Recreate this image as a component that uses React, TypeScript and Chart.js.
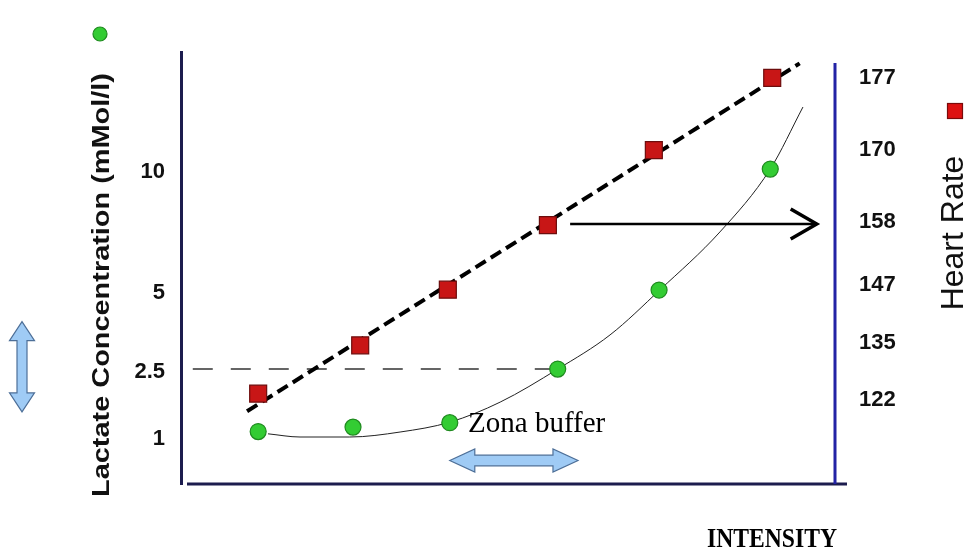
import React, { useEffect, useRef } from 'react';
import { Chart, LinearScale, registerables } from 'chart.js';

Chart.register(...registerables);

// ---------- data ----------
const lactateIntensity = [11.8, 26.3, 41.1, 57.6, 73.1, 90.1];
const lactateValues = [1.1, 1.2, 1.3, 2.5, 5, 10];
const hrIntensity = [11.8, 27.4, 40.8, 56.1, 72.3, 90.4];
const hrValues = [123.5, 134.5, 146, 157.5, 170, 177];
const lactateTicks = [1, 2.5, 5, 10];
const hrTicks = [122, 135, 147, 158, 170, 177];
// fitted lactate curve
const lactateCurveX = [13.3, 18.2, 25.8, 33.5, 41.1, 48.8, 57.6, 65.6, 73.2, 82.4, 90.1, 95.1];
const lactateCurveY = [1.05, 0.98, 0.98, 1.09, 1.31, 1.76, 2.5, 3.58, 5, 7.4, 10, 12.65];
// heart-rate regression line
const hrTrendX = [10.1, 94.6];
const hrTrendY = [119.5, 178.4];
// threshold line at 2.5 mMol/l
const thresholdX = [1.8, 57.6];
const thresholdY = [2.5, 2.5];
// annotation arrow (heart rate at threshold)
const arrowX = [59.5, 97.2];
const arrowHR = 157.7;
// buffer zone arrow
const bufferX = [41.1, 60.7];
const bufferLactate = 0.49;
const sideArrowLactate = [4.0, 1.54];

// ---------- axis break layout (non-linear axes of the original) ----------
const AXIS_BREAKS: Record<string, { values: number[]; fractions: number[] }> = {
  yL: { values: [0, 1, 2.5, 5, 10, 15], fractions: [0, 0.111, 0.266, 0.449, 0.729, 1] },
  yR: {
    values: [103, 122, 135, 147, 158, 170, 177, 179.5],
    fractions: [0, 0.194, 0.326, 0.461, 0.606, 0.773, 0.94, 1],
  },
};

function interp(xs: number[], ys: number[], v: number) {
  const n = xs.length;
  if (v <= xs[0]) {
    return ys[0] + ((v - xs[0]) * (ys[1] - ys[0])) / (xs[1] - xs[0]);
  }
  for (let i = 1; i < n; i++) {
    if (v <= xs[i]) {
      return ys[i - 1] + ((v - xs[i - 1]) * (ys[i] - ys[i - 1])) / (xs[i] - xs[i - 1]);
    }
  }
  return ys[n - 2] + ((v - xs[n - 2]) * (ys[n - 1] - ys[n - 2])) / (xs[n - 1] - xs[n - 2]);
}

class PiecewiseScale extends LinearScale {
  static id = 'piecewise';
  static defaults = {};
  getPixelForValue(value: any) {
    if (value === null || value === undefined || isNaN(value)) return NaN;
    const b = AXIS_BREAKS[(this as any).id];
    return this.getPixelForDecimal(interp(b.values, b.fractions, value));
  }
  getValueForPixel(pixel: number) {
    const b = AXIS_BREAKS[(this as any).id];
    return interp(b.fractions, b.values, this.getDecimalForPixel(pixel));
  }
}
Chart.register(PiecewiseScale as any);

function doubleArrow(
  ctx: CanvasRenderingContext2D,
  x1: number, y1: number, x2: number, y2: number,
  shaftHalf: number, headHalf: number, headLen: number
) {
  const L = Math.hypot(x2 - x1, y2 - y1);
  const ang = Math.atan2(y2 - y1, x2 - x1);
  ctx.save();
  ctx.translate(x1, y1);
  ctx.rotate(ang);
  ctx.beginPath();
  ctx.moveTo(0, 0);
  ctx.lineTo(headLen, -headHalf);
  ctx.lineTo(headLen, -shaftHalf);
  ctx.lineTo(L - headLen, -shaftHalf);
  ctx.lineTo(L - headLen, -headHalf);
  ctx.lineTo(L, 0);
  ctx.lineTo(L - headLen, headHalf);
  ctx.lineTo(L - headLen, shaftHalf);
  ctx.lineTo(headLen, shaftHalf);
  ctx.lineTo(headLen, headHalf);
  ctx.closePath();
  ctx.fillStyle = '#9fcbf5';
  ctx.fill();
  ctx.lineWidth = 1.2;
  ctx.strokeStyle = '#4d6f98';
  ctx.stroke();
  ctx.restore();
}

function stretchedText(
  ctx: CanvasRenderingContext2D, text: string, font: string,
  x: number, y: number, rot: number, width: number, align: CanvasTextAlign
) {
  ctx.save();
  ctx.font = font;
  ctx.textAlign = align;
  ctx.textBaseline = 'alphabetic';
  ctx.translate(x, y);
  ctx.rotate(rot);
  const w = ctx.measureText(text).width;
  ctx.scale(width / w, 1);
  ctx.fillText(text, 0, 0);
  ctx.restore();
}

const decorations = {
  id: 'decorations',
  beforeDraw(chart: any) {
    const { ctx, width, height } = chart;
    ctx.save();
    ctx.fillStyle = '#ffffff';
    ctx.fillRect(0, 0, width, height);
    ctx.restore();
  },
  afterDraw(chart: any) {
    const { ctx, chartArea: a, scales } = chart;
    const xs = scales.x, yL = scales.yL, yR = scales.yR;
    ctx.save();
    ctx.lineCap = 'butt';
    // x axis line
    ctx.strokeStyle = '#1c1c4e';
    ctx.lineWidth = 3;
    ctx.beginPath();
    ctx.moveTo(a.left + 6, a.bottom);
    ctx.lineTo(a.right + 12, a.bottom);
    ctx.stroke();
    // right axis line
    ctx.strokeStyle = '#2323a5';
    ctx.beginPath();
    ctx.moveTo(a.right, a.top + 11);
    ctx.lineTo(a.right, a.bottom);
    ctx.stroke();

    // black arrow to heart rate axis
    const ay = yR.getPixelForValue(arrowHR);
    const ax1 = xs.getPixelForValue(arrowX[0]);
    const ax2 = xs.getPixelForValue(arrowX[1]);
    ctx.strokeStyle = '#000';
    ctx.lineWidth = 2.5;
    ctx.beginPath();
    ctx.moveTo(ax1, ay);
    ctx.lineTo(ax2, ay);
    ctx.stroke();
    ctx.lineWidth = 3.5;
    ctx.lineJoin = 'miter';
    ctx.beginPath();
    ctx.moveTo(ax2 - 26, ay - 15);
    ctx.lineTo(ax2, ay);
    ctx.lineTo(ax2 - 26, ay + 15);
    ctx.stroke();

    // blue double arrows
    const by = yL.getPixelForValue(bufferLactate);
    doubleArrow(ctx, xs.getPixelForValue(bufferX[0]), by, xs.getPixelForValue(bufferX[1]), by, 5.3, 11.5, 25);
    doubleArrow(ctx, 22, yL.getPixelForValue(sideArrowLactate[0]), 22, yL.getPixelForValue(sideArrowLactate[1]), 5, 12.5, 19);

    // Zona buffer label
    ctx.fillStyle = '#000';
    ctx.font = "29px 'Liberation Serif', 'Times New Roman', serif";
    ctx.textAlign = 'left';
    ctx.textBaseline = 'alphabetic';
    ctx.fillText('Zona buffer', xs.getPixelForValue(43.9), yL.getPixelForValue(1.09));

    // axis titles
    ctx.fillStyle = '#111';
    stretchedText(ctx, 'Lactate Concentration (mMol/l)', "bold 24px 'Liberation Sans', Arial, sans-serif", 109, 285, -Math.PI / 2, 424, 'center');
    ctx.fillStyle = '#111';
    ctx.save();
    ctx.font = "32px 'Liberation Sans', Arial, sans-serif";
    ctx.textAlign = 'center';
    ctx.textBaseline = 'alphabetic';
    ctx.translate(963, 233);
    ctx.rotate(-Math.PI / 2);
    ctx.fillText('Heart Rate', 0, 0);
    ctx.restore();
    ctx.fillStyle = '#000';
    stretchedText(ctx, 'INTENSITY', "bold 28px 'Liberation Serif', 'Times New Roman', serif", 707, 547, 0, 130, 'left');

    // legend markers
    ctx.beginPath();
    ctx.arc(100, 34, 7, 0, Math.PI * 2);
    ctx.fillStyle = '#33cc33';
    ctx.fill();
    ctx.lineWidth = 1.2;
    ctx.strokeStyle = '#1f8a1f';
    ctx.stroke();
    ctx.fillStyle = '#dd1111';
    ctx.fillRect(947.5, 103.5, 15, 15);
    ctx.strokeStyle = '#7a0a0a';
    ctx.strokeRect(947.5, 103.5, 15, 15);
    ctx.restore();
  },
};

const tickFont = { family: "'Liberation Sans', Arial, sans-serif", weight: 'bold' as const, size: 22 };

export default function App() {
  const ref = useRef<HTMLCanvasElement>(null);
  useEffect(() => {
    const zip = (xa: number[], ya: number[]) => xa.map((x, i) => ({ x, y: ya[i] }));
    const chart = new Chart(ref.current as HTMLCanvasElement, {
      type: 'scatter',
      data: {
        datasets: [
          {
            label: 'Lactate',
            data: zip(lactateIntensity, lactateValues),
            yAxisID: 'yL',
            pointStyle: 'circle',
            pointRadius: 8,
            pointBackgroundColor: '#33cc33',
            pointBorderColor: '#1f8a1f',
            pointBorderWidth: 1.2,
            showLine: false,
          },
          {
            label: 'Heart Rate',
            data: zip(hrIntensity, hrValues),
            yAxisID: 'yR',
            pointStyle: 'rect',
            pointRadius: 12,
            pointBackgroundColor: '#c81616',
            pointBorderColor: '#6d0d0d',
            pointBorderWidth: 1.2,
            showLine: false,
          },
          {
            label: 'HR trend',
            data: zip(hrTrendX, hrTrendY),
            yAxisID: 'yR',
            showLine: true,
            borderColor: '#000',
            borderWidth: 4,
            borderDash: [12, 6],
            pointRadius: 0,
          },
          {
            label: 'Lactate curve',
            data: zip(lactateCurveX, lactateCurveY),
            yAxisID: 'yL',
            showLine: true,
            borderColor: '#222',
            borderWidth: 1,
            cubicInterpolationMode: 'monotone',
            pointRadius: 0,
          },
          {
            label: 'Threshold',
            data: zip(thresholdX, thresholdY),
            yAxisID: 'yL',
            showLine: true,
            borderColor: '#333',
            borderWidth: 1.5,
            borderDash: [20, 18],
            pointRadius: 0,
          },
        ],
      },
      options: {
        animation: false,
        responsive: true,
        maintainAspectRatio: false,
        layout: { padding: { top: 52, left: 0, right: 0, bottom: 0 } },
        plugins: { legend: { display: false }, tooltip: { enabled: false } },
        events: [],
        scales: {
          x: {
            type: 'linear',
            min: 0,
            max: 100,
            grid: { display: false },
            border: { display: false },
            ticks: { display: false },
            afterFit: (s: any) => {
              s.height = 65;
            },
          },
          yL: {
            type: 'piecewise' as any,
            position: 'left',
            min: 0,
            max: 15,
            grid: { display: false },
            border: { display: true, color: '#1c1c4e', width: 3 },
            ticks: {
              autoSkip: false,
              padding: 8,
              labelOffset: 3,
              color: '#111',
              font: tickFont,
              callback: (v: any) => String(v),
            },
            afterBuildTicks: (axis: any) => {
              axis.ticks = lactateTicks.map((v) => ({ value: v }));
            },
            afterFit: (s: any) => {
              s.width = 181;
            },
          },
          yR: {
            type: 'piecewise' as any,
            position: 'right',
            min: 103,
            max: 179.5,
            grid: { display: false },
            border: { display: false },
            ticks: {
              autoSkip: false,
              padding: 16,
              color: '#111',
              font: tickFont,
              callback: (v: any) => String(v),
            },
            afterBuildTicks: (axis: any) => {
              axis.ticks = hrTicks.map((v) => ({ value: v }));
            },
            afterFit: (s: any) => {
              s.width = 131;
            },
          },
        } as any,
      },
      plugins: [decorations],
    });
    return () => chart.destroy();
  }, []);
  return (
    <div style={{ position: 'fixed', left: 0, top: 0, width: 966, height: 549, background: '#fff' }}>
      <canvas ref={ref} />
    </div>
  );
}
